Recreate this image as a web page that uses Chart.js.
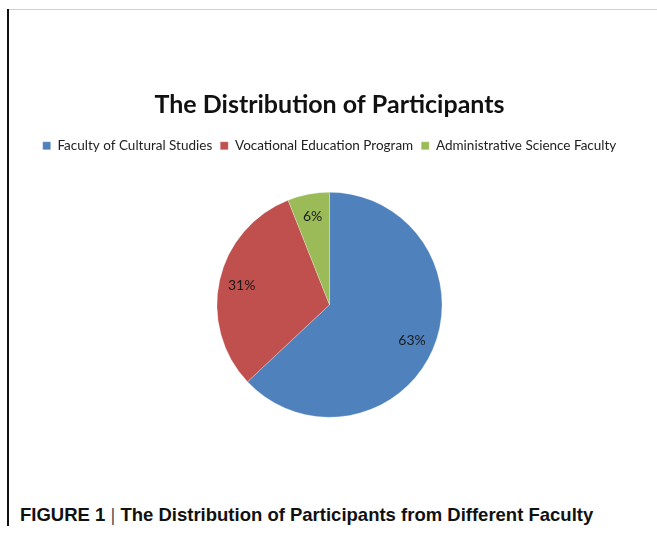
<!DOCTYPE html>
<html>
<head>
<meta charset="utf-8">
<script src="https://cdn.jsdelivr.net/npm/chart.js@4/dist/chart.umd.min.js"></script>
<style>
    body { margin: 0; background: #fff; }
    #wrap { position: relative; width: 657px; height: 535px; overflow: hidden; }
    #topRule { position: absolute; left: 8px; top: 9px; width: 649px; height: 1px; background: #cfcfcf; }
    #leftRule { position: absolute; left: 7px; top: 9px; width: 1.5px; height: 517px; background: #111; }
    #chartCanvas { position: absolute; left: 0; top: 0; }
    #caption {
        position: absolute; left: 20px; top: 504px;
        font-family: "Liberation Sans", Arial, sans-serif; font-weight: bold;
        font-size: 18.5px; color: #111; white-space: nowrap;
    }
    #caption .bar { font-weight: normal; color: #555; }
</style>
</head>
<body>
<div id="wrap">
    <div id="topRule"></div>
    <div id="leftRule"></div>
    <canvas id="chartCanvas" width="657" height="470"></canvas>
    <div id="caption">FIGURE 1 <span class="bar">|</span> The Distribution of Participants from Different Faculty</div>
</div>
<script>
const chartTitle = 'The Distribution of Participants';
const faculties = ['Faculty of Cultural Studies', 'Vocational Education Program', 'Administrative Science Faculty'];
const shares = [63, 31, 6];
const sliceColors = ['#4F81BD', '#C0504D', '#9BBB59'];

// percent labels inside the slices
const sliceLabels = {
    id: 'sliceLabels',
    afterDatasetsDraw(chart) {
        const ctx = chart.ctx;
        const total = shares.reduce((a, b) => a + b, 0);
        const arcs = chart.getDatasetMeta(0).data;
        ctx.save();
        ctx.font = '14px Lato';
        ctx.fillStyle = '#1a1a1a';
        ctx.textAlign = 'center';
        ctx.textBaseline = 'middle';
        arcs.forEach((arc, i) => {
            const mid = (arc.startAngle + arc.endAngle) / 2;
            const r = arc.outerRadius * 0.8;
            const text = Math.round(shares[i] / total * 100) + '%';
            ctx.fillText(text, arc.x + Math.cos(mid) * r, arc.y + Math.sin(mid) * r);
        });
        ctx.restore();
    }
};

new Chart(document.getElementById('chartCanvas'), {
    type: 'pie',
    data: {
        labels: faculties,
        datasets: [{
            data: shares,
            backgroundColor: sliceColors,
            borderColor: 'rgba(255,255,255,0.5)',
            borderWidth: 0.5,
            radius: 112.5
        }]
    },
    options: {
        responsive: false,
        animation: false,
        layout: { padding: { left: 10, right: 8, top: 0, bottom: 23 } },
        plugins: {
            title: {
                display: true,
                text: chartTitle,
                color: '#111',
                font: { family: 'Lato', size: 25, weight: 'bold' },
                padding: { top: 90, bottom: 11 }
            },
            legend: {
                position: 'top',
                labels: {
                    boxWidth: 8,
                    boxHeight: 8,
                    padding: 8,
                    color: '#222',
                    font: { family: 'Lato', size: 13.5 }
                }
            },
            tooltip: { enabled: false }
        }
    },
    plugins: [sliceLabels]
});
</script>
</body>
</html>
